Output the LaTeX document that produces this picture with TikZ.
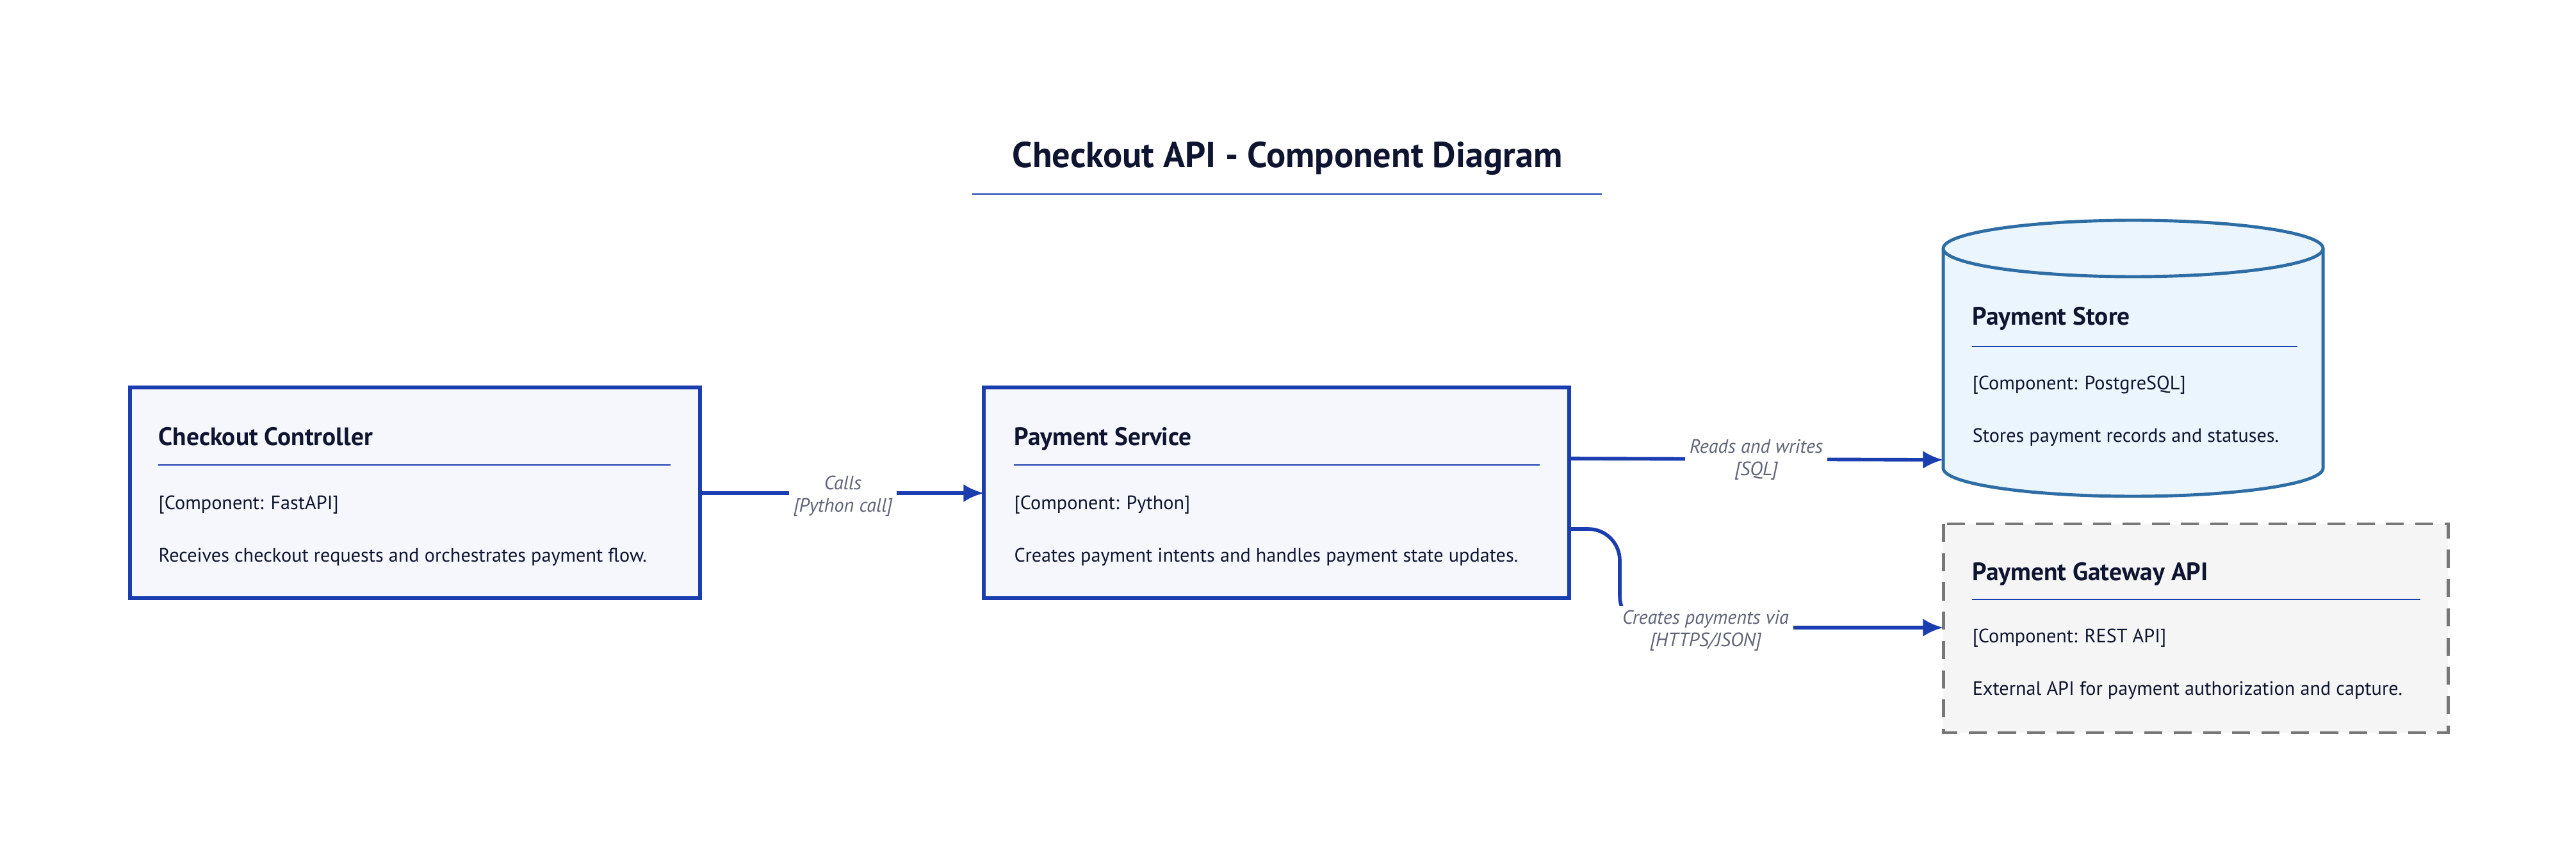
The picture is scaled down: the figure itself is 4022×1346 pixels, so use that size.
\documentclass[tikz,border=0pt]{standalone}
\usepackage{fontspec}
\setmainfont{PT Sans}
\usetikzlibrary{arrows.meta}
\definecolor{cblue}{HTML}{1A3DB0}
\definecolor{ctext}{HTML}{0F1530}
\definecolor{clab}{HTML}{5F6478}
\definecolor{bfill}{HTML}{F5F7FC}
\definecolor{dbline}{HTML}{2E6DA4}
\definecolor{dbfill}{HTML}{EAF5FE}
\definecolor{gline}{HTML}{777777}
\definecolor{gfill}{HTML}{F5F5F5}
\begin{document}
\begin{tikzpicture}[x=0.01cm,y=-0.01cm,
  box/.style={draw=cblue,fill=bfill,line width=1.6pt},
  ttl/.style={anchor=base west,font=\fontsize{11.2}{13}\selectfont\bfseries,text=ctext,inner sep=0},
  txt/.style={anchor=base west,font=\fontsize{8.6}{10}\selectfont,text=ctext,inner sep=0},
  sep/.style={cblue,line width=0.8pt},
  lab/.style={font=\fontsize{8.6}{10}\selectfont\itshape,text=clab,fill=white,align=center,inner sep=2pt},
  con/.style={cblue,line width=1.6pt,-{Latex[length=9pt,width=8pt]}}]
\useasboundingbox (0,0) rectangle (4022,1346);
% title
\node[font=\fontsize{16}{19}\selectfont\bfseries,text=ctext,anchor=base] (title) at (2010,262) {Checkout API - Component Diagram};
\draw[cblue,line width=0.8pt] (1518,303) -- (2501,303);
% Checkout Controller
\draw[box] (203,605) rectangle (1093,934);
\node[ttl] (cc) at (247,695) {Checkout Controller};
\draw[sep] (247,726) -- (1047,726);
\node[txt] (cct) at (247,795) {[Component: FastAPI]};
\node[txt] (ccd) at (247,877) {Receives checkout requests and orchestrates payment flow.};
\coordinate (ccR) at (1093,770);
% Payment Service
\draw[box] (1536,605) rectangle (2450,934);
\node[ttl] (ps) at (1583,695) {Payment Service};
\draw[sep] (1583,726) -- (2404,726);
\node[txt] (pst) at (1583,795) {[Component: Python]};
\node[txt] (psd) at (1583,877) {Creates payment intents and handles payment state updates.};
\coordinate (psL) at (1536,770);
\coordinate (psR1) at (2450,716);
\coordinate (psR2) at (2450,826);
% Payment Store cylinder
\draw[dbline,fill=dbfill,line width=1.4pt] (3034,388) -- (3034,731) arc[start angle=180,end angle=0,x radius=296.5,y radius=44] -- (3627,388) arc[start angle=0,end angle=-180,x radius=296.5,y radius=44];
\draw[dbline,line width=1.4pt] (3034,388) arc[start angle=180,end angle=360,x radius=296.5,y radius=-44];
\node[ttl] (st) at (3079,508) {Payment Store};
\draw[sep] (3079,541) -- (3587,541);
\node[txt] (stt) at (3079,608) {[Component: PostgreSQL]};
\node[txt] (std) at (3079,690) {Stores payment records and statuses.};
\coordinate (stL) at (3034,718);
% Gateway
\draw[gline,fill=gfill,line width=1.4pt,dash pattern=on 8pt off 5pt] (3034,818) rectangle (3822,1144);
\node[ttl] (gw) at (3079,906) {Payment Gateway API};
\draw[sep] (3079,936) -- (3779,936);
\node[txt] (gwt) at (3079,1003) {[Component: REST API]};
\node[txt] (gwd) at (3079,1085) {External API for payment authorization and capture.};
\coordinate (gwL) at (3034,980);
% connectors
\draw[con] (ccR) -- (psL);
\node[lab] (l1) at (1316,775) {Calls\\{[Python call]}};
\draw[con] (psR1) -- (stL);
\node[lab] (l2) at (2742,718) {Reads and writes\\{[SQL]}};
\coordinate (bend) at (2529,980);
\draw[con,rounded corners=14pt] (psR2) -| (bend) -- (gwL);
\node[lab] (l3) at (2663,985) {Creates payments via\\{[HTTPS/JSON]}};
\end{tikzpicture}
\end{document}
